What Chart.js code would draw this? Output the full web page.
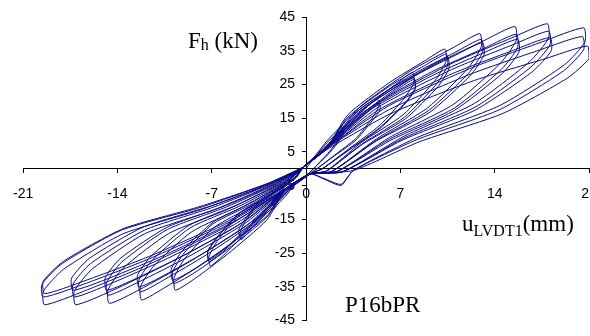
<!DOCTYPE html>
<html>
<head>
<meta charset="utf-8">
<script src="https://cdn.jsdelivr.net/npm/chart.js@4.4.1/dist/chart.umd.min.js"></script>
<style>
  html, body { margin: 0; padding: 0; background: #fff; overflow: hidden; }
  #wrap { position: relative; width: 590px; height: 336px; overflow: hidden; }
  canvas { position: absolute; left: 0; top: 0; }
  .lbl { position: absolute; font-family: 'Liberation Serif', 'Times New Roman', serif; font-size: 23px; line-height: 23px; color: #000; white-space: nowrap; }
  .lbl sub { font-size: 16px; line-height: 0; position: relative; vertical-align: baseline; }
</style>
</head>
<body>
<div id="wrap">
  <canvas id="hyst" width="610" height="336"></canvas>
  <div class="lbl" style="left:188px; top:29px;">F<sub style="top:2px">h</sub> (kN)</div>
  <div class="lbl" style="left:462px; top:212px;">u<sub style="top:5px">LVDT1</sub>(mm)</div>
  <div class="lbl" style="left:345px; top:293px;">P16bPR</div>
</div>
<script>
// ciclos de carga: pares [u (mm), Fh (kN)], por amplitude
const amp03 = [
  [0,0],[0.8,4.5],[1.6,8.5],[2.2,11],[2.6,12.5],[2.6,11],[2.3,8],[1.6,4.5],[0.9,1.5],[0.3,-1],
  [-0.8,-4.5],[-1.5,-8],[-2.1,-10.5],[-2.4,-12],[-2.4,-10.5],[-2.1,-8],[-1.5,-5],[-0.8,-2.5],[-0.2,0.5],
  [0.8,4.2],[1.6,7.9],[2.2,10.2],[2.7,11.5],[2.7,10.1],[2.3,7.4],[1.6,4.1],[0.9,1.4],[0.3,-1],
  [-0.8,-4.2],[-1.5,-7.4],[-2.1,-9.7],[-2.5,-11],[-2.5,-9.6],[-2.1,-7.3],[-1.5,-4.6],[-0.8,-2.3],[-0.2,0.5]
];
const amp05 = [
  [1.2,5.5],[2.6,11.5],[4.2,17.5],[5.3,20.6],[5.4,18.5],[4.9,15],[3.7,9],[2.1,4],[0.8,0],[0.3,-1.5],
  [-1.2,-6],[-2.5,-11.5],[-3.9,-17],[-4.8,-21],[-4.9,-19],[-4.5,-15.5],[-3.4,-10],[-1.9,-6],[-0.7,-2.5],[-0.2,0.5],
  [1.2,5.3],[2.6,10.9],[4.2,16.6],[5.4,19.5],[5.5,17.5],[4.9,14.2],[3.7,8.5],[2.1,3.8],[0.8,0],[0.3,-1.5],
  [-1.2,-5.7],[-2.5,-11],[-3.9,-16.2],[-4.9,-20],[-5,-18.1],[-4.5,-14.8],[-3.4,-9.5],[-1.9,-5.7],[-0.7,-2.4],[-0.2,0.5]
];
const amp08 = [
  [1.5,6.5],[3.2,13.5],[5,20],[6.8,25.5],[7.9,28.6],[8,25.5],[7.3,21],[5.5,13],[3.2,6],[1.2,0],[0.3,-1.5],
  [-1.5,-6.5],[-3,-13],[-4.6,-19.5],[-6.1,-25.5],[-7.1,-28.8],[-7.2,-26],[-6.6,-21.5],[-5,-14],[-2.8,-8.5],[-1,-3.5],[-0.2,0.5],
  [1.5,6.2],[3.2,12.8],[5,18.9],[6.8,24.1],[8,27],[8.1,24.1],[7.4,19.8],[5.5,12.3],[3.2,5.7],[1.2,0],[0.3,-1.5],
  [-1.5,-6.2],[-3,-12.4],[-4.6,-18.6],[-6.1,-24.4],[-7.2,-27.5],[-7.3,-24.8],[-6.6,-20.5],[-5,-13.4],[-2.8,-8.1],[-1,-3.3],[-0.2,0.5],
  [1.5,6],[3.2,12.5],[5,18.5],[6.8,23.6],[8,26.5],[8.1,23.6],[7.4,19.5],[5.5,12],[3.2,5.6],[1.2,0],[0.3,-1.5],
  [-1.5,-6.1],[-3,-12.2],[-4.6,-18.3],[-6.1,-24],[-7.2,-27],[-7.3,-24.4],[-6.6,-20.2],[-5,-13.2],[-2.8,-8],[-1,-3.3],[-0.2,0.5]
];
const amp10 = [
  [1.5,6],[3.1,16],[6.2,25.6],[8.8,32],[10.3,35.5],[10.4,32],[9.6,26.3],[7.2,16],[4.1,7.8],[1.5,-0.7],[0.3,-1.5],
  [-1.5,-6],[-2.9,-15.1],[-5.8,-25.2],[-8.2,-32.4],[-9.7,-36],[-9.8,-32.4],[-9,-26.6],[-6.8,-17.3],[-3.9,-10.8],[-1.5,-4.3],[-0.2,0.5],
  [1.5,6],[3.1,15.3],[6.2,24.5],[8.8,30.6],[10.4,34],[10.5,30.6],[9.7,25.2],[7.3,15.3],[4.2,7.5],[1.5,-0.7],[0.3,-1.5],
  [-1.5,-6],[-2.9,-14.3],[-5.8,-23.8],[-8.2,-30.6],[-9.8,-34],[-9.9,-30.6],[-9.1,-25.2],[-6.9,-16.3],[-3.9,-10.2],[-1.5,-4.1],[-0.2,0.5],
  [1.5,5.8],[3.1,14.9],[6.3,23.8],[8.9,29.7],[10.5,33],[10.6,29.7],[9.8,24.4],[7.4,14.9],[4.2,7.3],[1.5,-0.7],[0.3,-1.5],
  [-1.5,-5.8],[-2.9,-13.9],[-5.9,-23.1],[-8.3,-29.7],[-9.9,-33],[-10,-29.7],[-9.2,-24.4],[-6.9,-15.8],[-4,-9.9],[-1.5,-4],[-0.2,0.5]
];
const amp13 = [
  [1.5,6],[3.9,18],[7.7,28.9],[11,36.1],[12.9,40.1],[13,36.1],[12,29.7],[9,18],[5.2,8.8],[1.9,-0.8],[0.3,-1.5],
  [-1.5,-6],[-3.7,-16.3],[-7.3,-27.2],[-10.4,-35],[-12.2,-38.9],[-12.3,-35],[-11.3,-28.8],[-8.5,-18.7],[-4.9,-11.7],[-1.8,-4.7],[-0.2,0.5],
  [1.5,6],[3.9,17.3],[7.8,27.7],[11.1,34.6],[13,38.4],[13.1,34.6],[12.1,28.5],[9.1,17.3],[5.2,8.4],[1.9,-0.8],[0.3,-1.5],
  [-1.5,-6],[-3.7,-15.3],[-7.4,-25.5],[-10.5,-32.8],[-12.3,-36.5],[-12.4,-32.9],[-11.4,-27],[-8.6,-17.5],[-4.9,-11],[-1.8,-4.4],[-0.2,0.5],
  [1.5,5.8],[3.9,16.8],[7.8,27],[11.1,33.7],[13.1,37.4],[13.2,33.7],[12.2,27.7],[9.2,16.8],[5.2,8.2],[1.9,-0.8],[0.3,-1.5],
  [-1.5,-5.8],[-3.7,-14.7],[-7.4,-24.5],[-10.5,-31.5],[-12.4,-35],[-12.5,-31.5],[-11.5,-25.9],[-8.7,-16.8],[-5,-10.5],[-1.8,-4.2],[-0.2,0.5]
];
const amp16 = [
  [1.5,6],[4.7,19],[9.3,30.4],[13.2,38],[15.5,42.2],[15.6,38],[14.4,31.2],[10.9,19],[6.2,9.3],[2.3,-0.8],[0.3,-1.5],
  [-1.5,-6],[-4.4,-16.8],[-8.8,-27.9],[-12.4,-35.9],[-14.6,-39.9],[-14.7,-35.9],[-13.6,-29.5],[-10.2,-19.2],[-5.8,-12],[-2.2,-4.8],[-0.2,0.5],
  [1.5,6],[4.7,18],[9.3,28.7],[13.3,35.9],[15.6,39.9],[15.7,35.9],[14.5,29.5],[11,18],[6.2,8.8],[2.3,-0.8],[0.3,-1.5],
  [-1.5,-6],[-4.4,-15.8],[-8.8,-26.2],[-12.5,-33.7],[-14.7,-37.5],[-14.8,-33.7],[-13.7,-27.7],[-10.3,-18],[-5.9,-11.3],[-2.2,-4.5],[-0.2,0.5],
  [1.5,5.8],[4.7,17.3],[9.4,27.7],[13.3,34.6],[15.7,38.4],[15.8,34.6],[14.6,28.4],[11,17.3],[6.3,8.5],[2.3,-0.8],[0.3,-1.5],
  [-1.5,-5.8],[-4.4,-15.1],[-8.8,-25.1],[-12.5,-32.3],[-14.8,-36],[-14.9,-32.3],[-13.8,-26.6],[-10.3,-17.3],[-5.9,-10.8],[-2.2,-4.3],[-0.2,0.5]
];
const amp18 = [
  [1.5,6],[5.4,19.4],[10.7,31],[15.2,38.7],[17.9,43],[18,38.7],[16.6,31.8],[12.5,19.4],[7.2,9.5],[2.7,-0.9],[0.3,-1.5],
  [-1.5,-6],[-5.1,-16.9],[-10.3,-28.2],[-14.5,-36.3],[-17.1,-40.3],[-17.2,-36.3],[-15.9,-29.8],[-12,-19.3],[-6.8,-12.1],[-2.6,-4.8],[-0.2,0.5],
  [1.5,6],[5.4,18.4],[10.8,29.4],[15.3,36.7],[18,40.8],[18.1,36.7],[16.7,30.2],[12.6,18.4],[7.2,9],[2.7,-0.9],[0.3,-1.5],
  [-1.5,-6],[-5.1,-16],[-10.3,-26.6],[-14.6,-34.2],[-17.2,-38],[-17.3,-34.2],[-16,-28.1],[-12,-18.2],[-6.9,-11.4],[-2.6,-4.5],[-0.2,0.5],
  [1.5,5.8],[5.4,17.5],[10.8,28.1],[15.3,35],[18.1,38.9],[18.2,35],[16.8,28.8],[12.6,17.5],[7.2,8.6],[2.7,-0.9],[0.3,-1.5],
  [-1.5,-5.8],[-5.1,-15.1],[-10.3,-25.2],[-14.6,-32.4],[-17.3,-36],[-17.4,-32.4],[-16.1,-26.6],[-12.1,-17.3],[-6.9,-10.8],[-2.6,-4.3],[-0.2,0.5]
];
const amp21 = [
  [1.5,6],[6.2,18.8],[12.4,30.1],[17.5,37.6],[20.6,41.8],[20.7,37.6],[19.2,30.9],[14.4,18.8],[8.2,9.2],[3.5,-0.5],[2.6,-4.9],[1.3,-3],[0.3,-1.5],
  [-1.5,-6],[-5.8,-16.9],[-11.6,-28.2],[-16.5,-36.3],[-19.4,-40.3],[-19.5,-36.3],[-18,-29.8],[-13.6,-19.3],[-7.8,-12.1],[-2.9,-4.8],[-0.2,0.5],
  [1.5,6],[6.2,17.6],[12.3,28.2],[17.4,35.3],[20.5,39.2],[20.6,35.3],[19.1,29],[14.4,17.6],[8.2,8.6],[3.5,-0.5],[2.6,-4.6],[1.3,-2.8],[0.3,-1.5],
  [-1.5,-6],[-5.8,-16],[-11.6,-26.6],[-16.5,-34.2],[-19.5,-38],[-19.6,-34.2],[-18.1,-28.1],[-13.7,-18.2],[-7.8,-11.4],[-2.9,-4.5],[-0.2,0.5],
  [1.5,5.6],[6.3,16.4],[12.5,26.2],[17.8,32.7],[20.9,36.4],[21,32.7],[19.4,26.9],[14.6,16.4],[8.4,8],[3.5,-0.5],[0.3,-1.5],
  [-1.5,-5.8],[-5.8,-15.5],[-11.6,-25.9],[-16.5,-33.3],[-19.4,-37],[-19.5,-33.3],[-18,-27.4],[-13.6,-17.8],[-7.8,-11.1],[-2.9,-4.4],[-0.2,0.5]
];

// marcas dos eixos
const uTicks = [-21, -14, -7, 0, 7, 14, 21];
const fTicks = [-45, -35, -25, -15, -5, 5, 15, 25, 35, 45];

const lineColor = '#0a0a86';
const tickFont = { family: "'Liberation Sans', Arial, sans-serif", size: 14 };

const path = [amp03, amp05, amp08, amp10, amp13, amp16, amp18, amp21]
  .flat()
  .map(([u, f]) => ({ x: u, y: f }));

new Chart(document.getElementById('hyst'), {
  type: 'scatter',
  data: {
    datasets: [{
      data: path,
      showLine: true,
      borderColor: lineColor,
      borderWidth: 1,
      pointRadius: 0,
      tension: 0.2
    }]
  },
  options: {
    responsive: false,
    devicePixelRatio: 1,
    animation: false,
    layout: { padding: { left: 21, right: 21, top: 17, bottom: 7 } },
    plugins: { legend: { display: false }, tooltip: { enabled: false } },
    scales: {
      x: {
        type: 'linear',
        position: { y: 0 },
        min: -21,
        max: 21,
        afterBuildTicks: (s) => { s.ticks = uTicks.map(v => ({ value: v })); },
        grid: { drawOnChartArea: false, tickLength: 4, color: '#000' },
        border: { color: '#000', width: 1 },
        ticks: { color: '#000', font: tickFont, padding: 13, maxRotation: 0, autoSkip: false }
      },
      y: {
        type: 'linear',
        position: 'center',   // eixo simétrico: o centro cai em u = 0
        min: -45,
        max: 45,
        afterBuildTicks: (s) => { s.ticks = fTicks.map(v => ({ value: v })); },
        grid: { drawOnChartArea: false, tickLength: 4, color: '#000' },
        border: { color: '#000', width: 1 },
        ticks: { color: '#000', font: tickFont, padding: 7, autoSkip: false }
      }
    }
  }
});
</script>
</body>
</html>
